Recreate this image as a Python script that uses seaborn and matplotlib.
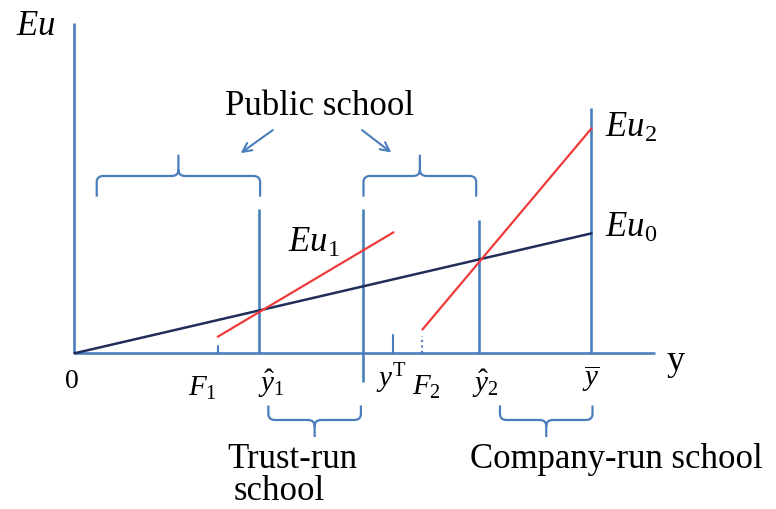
import numpy as np
import pandas as pd
import matplotlib
matplotlib.use("Agg")
import matplotlib.pyplot as plt
from matplotlib.path import Path
from matplotlib.patches import PathPatch
import seaborn as sns

# ---------------- data (schematic units, origin = 0, y-bar = 10) ----------------
eu0_x = [0.0, 10.0]
eu0_y = [0.0, 2.32]
eu1_x = [2.77, 6.17]
eu1_y = [0.32, 2.34]
eu2_x = [6.73, 10.0]
eu2_y = [0.46, 4.35]

vline_x = [3.57, 5.58, 7.82, 10.0]        # y-hat1, boundary, y-hat2, y-bar
vline_top = [2.80, 2.80, 2.58, 4.74]
vline_bottom = [0.0, -0.55, 0.0, 0.0]

tick_x = [2.78, 6.17, 6.73]               # F1, yT, F2
tick_top = [0.14, 0.35, 0.33]
tick_style = ["-", "-", ":"]

xaxis_end = 11.23
yaxis_top = 6.38

top_brace_spans = [(0.43, 3.59), (5.59, 7.77)]
bottom_brace_spans = [(3.75, 5.54), (8.23, 10.02)]

line_labels = [r"$Eu_1$", r"$Eu_2$", r"$Eu_0$"]
tick_labels = [r"$F_1$", r"$\hat{y}_1$", r"$y^{\mathrm{T}}$", r"$F_2$", r"$\hat{y}_2$", r"$\overline{y}$"]
region_labels = ["Public school", "Trust-run", "school", "Company-run school"]

# ---------------- style ----------------
sns.set_style("white")
plt.rcParams["font.family"] = ["Liberation Serif", "DejaVu Serif"]
plt.rcParams["mathtext.fontset"] = "custom"
plt.rcParams["mathtext.rm"] = "Liberation Serif"
plt.rcParams["mathtext.it"] = "Liberation Serif:italic"
plt.rcParams["mathtext.bf"] = "Liberation Serif:bold"
plt.rcParams["text.color"] = "black"

BLUE = "#4A7EBB"
NAVY = "#1F2D5A"
RED = "#F03A3A"

fig = plt.figure(figsize=(7.76, 5.09), dpi=100)
ax = fig.add_axes([0, 0, 1, 1])

# axes lines
ax.plot([0, xaxis_end], [0, 0], color=BLUE, lw=1.9, solid_capstyle="butt")
ax.plot([0, 0], [0, yaxis_top], color=BLUE, lw=1.9, solid_capstyle="butt")

# vertical lines
ax.vlines(vline_x, vline_bottom, vline_top, color=BLUE, lw=1.9)
for x, t, s in zip(tick_x, tick_top, tick_style):
    ax.plot([x, x], [0, t], color=BLUE, lw=1.5, ls=s)

# utility lines via seaborn
df0 = pd.DataFrame({"x": eu0_x, "y": eu0_y})
df1 = pd.DataFrame({"x": eu1_x, "y": eu1_y})
df2 = pd.DataFrame({"x": eu2_x, "y": eu2_y})
sns.lineplot(data=df0, x="x", y="y", ax=ax, color=NAVY, lw=1.8, estimator=None, sort=False)
sns.lineplot(data=df1, x="x", y="y", ax=ax, color=RED, lw=1.6, estimator=None, sort=False)
sns.lineplot(data=df2, x="x", y="y", ax=ax, color=RED, lw=1.6, estimator=None, sort=False)
ax.set_xlim(-1.441, 13.569)
ax.set_ylim(-3.012, 6.834)
ax.axis("off")


def brace(x0, x1, yb, ye, yt, r=0.13, d=0.12):
    s = np.sign(yt - yb)
    xc = (x0 + x1) / 2
    verts = [
        (x0, ye), (x0, yb - s * d), (x0, yb), (x0 + r, yb),
        (xc - r, yb), (xc, yb), (xc, yb + s * d), (xc, yt),
        (xc, yb + s * d), (xc, yb), (xc + r, yb),
        (x1 - r, yb), (x1, yb), (x1, yb - s * d), (x1, ye),
    ]
    codes = [
        Path.MOVETO, Path.LINETO, Path.CURVE3, Path.CURVE3,
        Path.LINETO, Path.CURVE3, Path.CURVE3, Path.LINETO,
        Path.MOVETO, Path.CURVE3, Path.CURVE3,
        Path.LINETO, Path.CURVE3, Path.CURVE3, Path.LINETO,
    ]
    ax.add_patch(PathPatch(Path(verts, codes), fill=False, edgecolor=BLUE, lw=1.6))


for x0, x1 in top_brace_spans:
    brace(x0, x1, yb=3.43, ye=3.03, yt=3.84)
for x0, x1 in bottom_brace_spans:
    brace(x0, x1, yb=-1.29, ye=-1.01, yt=-1.62)

# arrows from "Public school"
arrow_kw = dict(arrowstyle="->", color=BLUE, lw=1.5, mutation_scale=16)
ax.annotate("", xy=(3.17, 3.84), xytext=(3.88, 4.35), arrowprops=arrow_kw)
ax.annotate("", xy=(6.17, 3.85), xytext=(5.52, 4.35), arrowprops=arrow_kw)

# texts
BIG = 25
SMALL = 21
TXT = "black"
ax.text(-1.13, 6.16, r"$Eu$", fontsize=BIG, ha="left", va="baseline", color=TXT)
ax.text(11.46, -0.32, "y", fontsize=BIG + 1, ha="left", va="baseline", color=TXT)
ax.text(-0.05, -0.68, "0", fontsize=20, ha="center", va="baseline", color=TXT)

ax.text(4.13, 1.97, line_labels[0], fontsize=BIG, ha="left", va="baseline", color=TXT)
ax.text(10.26, 4.19, line_labels[1], fontsize=BIG, ha="left", va="baseline", color=TXT)
ax.text(10.26, 2.26, line_labels[2], fontsize=BIG, ha="left", va="baseline", color=TXT)

tick_label_pos = [(2.20, -0.82), (3.55, -0.75), (5.83, -0.65), (6.52, -0.81), (7.68, -0.75), (9.81, -0.65)]
for lab, (tx, ty) in zip(tick_labels, tick_label_pos):
    ax.text(tx, ty, lab, fontsize=SMALL, ha="left", va="baseline", color=TXT)

ax.text(2.92, 4.61, region_labels[0], fontsize=BIG, ha="left", va="baseline", color=TXT)
ax.text(2.96, -2.22, region_labels[1], fontsize=BIG, ha="left", va="baseline", color=TXT)
ax.text(3.07, -2.84, region_labels[2], fontsize=BIG, ha="left", va="baseline", color=TXT)
ax.text(7.65, -2.22, region_labels[3], fontsize=BIG, ha="left", va="baseline", color=TXT)

fig.savefig("out.png", dpi=100)
